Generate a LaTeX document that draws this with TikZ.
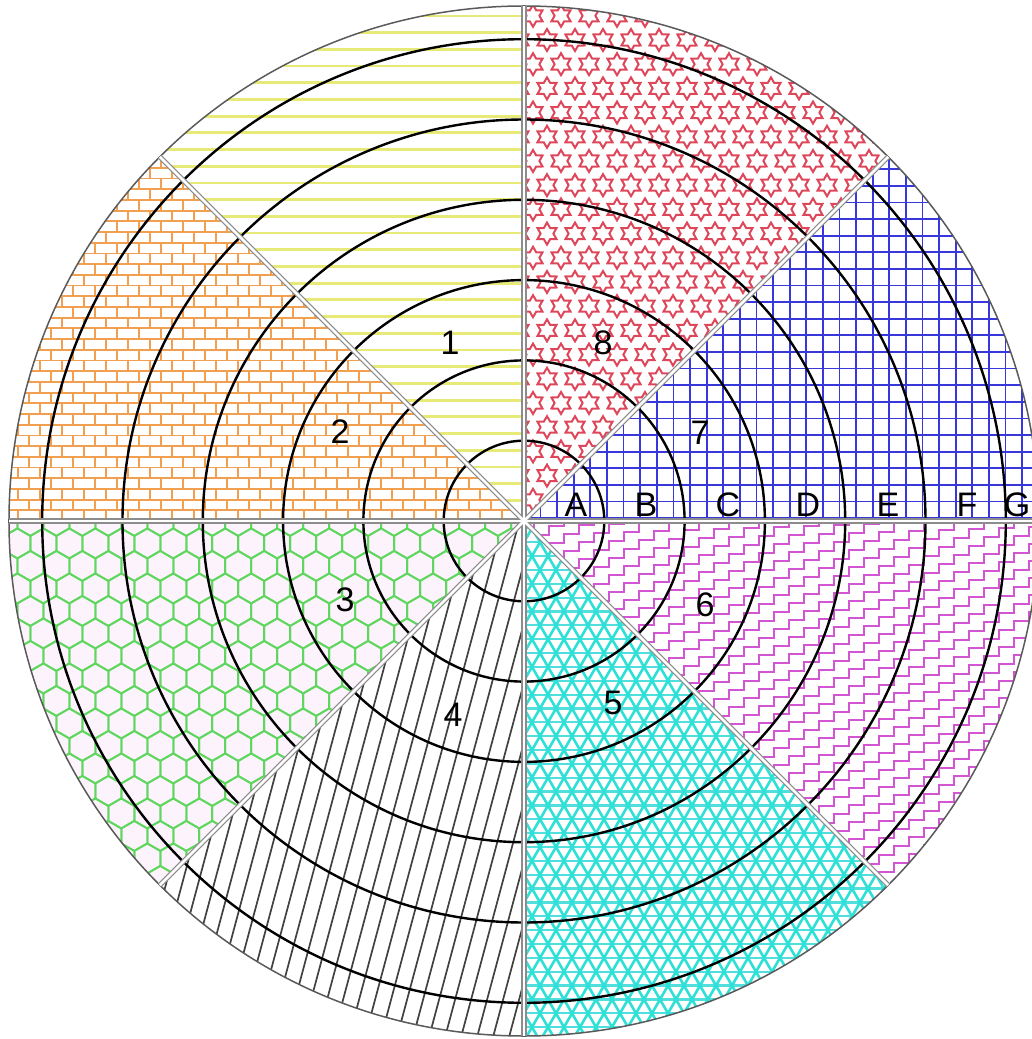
\documentclass[tikz,border=0pt]{standalone}
\usepackage{fontspec}
\setmainfont{Liberation Sans}
\definecolor{yel}{RGB}{232,234,120}
\definecolor{starred}{RGB}{222,70,90}
\definecolor{gridblue}{RGB}{55,55,220}
\definecolor{mag}{RGB}{210,85,210}
\definecolor{cyanp}{RGB}{45,225,215}
\definecolor{cyanl}{RGB}{80,222,222}
\definecolor{hatchc}{RGB}{65,65,65}
\definecolor{hexg}{RGB}{95,215,95}
\definecolor{hexfill}{RGB}{253,243,252}
\definecolor{brickc}{RGB}{240,160,80}
\definecolor{divgray}{RGB}{140,140,140}
\definecolor{rimgray}{RGB}{90,90,90}
\tikzset{
  hexstar/.pic={\draw[starred,line width=2pt] (90:11)--(120:6.4)--(150:11)--(180:6.4)--(210:11)--(240:6.4)--(270:11)--(300:6.4)--(330:11)--(0:6.4)--(30:11)--(60:6.4)--cycle;},
  honey/.pic={\filldraw[fill=hexfill,draw=hexg,line width=2pt] (30:15)--(90:15)--(150:15)--(210:15)--(270:15)--(330:15)--cycle;}
}
\begin{document}
\begin{tikzpicture}[x=1pt,y=1pt,
  ring/.style={line width=2.4pt, black},
  rim/.style={draw=rimgray, line width=1.5pt},
  lab/.style={font=\fontsize{34}{40}\selectfont, inner sep=0pt, text=black}]
\def\R{515}
\useasboundingbox (-524,-518) rectangle (508,521);

% sector 1: yellow horizontal lines
\begin{scope}
\clip (0,0) -- (90:\R) arc[start angle=90,end angle=135,radius=\R] -- cycle;
\foreach \y in {4,20.7,...,530} \draw[yel,line width=2.8pt] (-530,\y) -- (0,\y);
\end{scope}

% sector 8: six-pointed stars
\begin{scope}
\clip (0,0) -- (45:\R) arc[start angle=45,end angle=90,radius=\R] -- cycle;
\foreach \j in {0,...,22} {
  \foreach \i in {0,...,14} {
    \pgfmathsetmacro\xx{\i*28 + mod(\j,2)*14 - 5}
    \pgfmathsetmacro\yy{\j*24.2 - 3}
    \pic at (\xx,\yy) {hexstar};
  }
}
\end{scope}

% sector 7: blue grid
\begin{scope}
\clip (0,0) -- (0:\R) arc[start angle=0,end angle=45,radius=\R] -- cycle;
\foreach \v in {0,16.6,...,530} {
  \draw[gridblue,line width=1.8pt] (\v,0) -- (\v,400);
  \draw[gridblue,line width=1.8pt] (0,\v+3) -- (530,\v+3);
}
\end{scope}

% sector 6: magenta staircases
\begin{scope}
\clip (0,0) -- (-45:\R) arc[start angle=-45,end angle=0,radius=\R] -- cycle;
\foreach \y in {-720,-703,...,10}
  \draw[mag,line width=1.7pt] (-5,\y) \foreach \k in {1,...,36} { -- ++(15,0) -- ++(0,9) };
\end{scope}

% sector 5: cyan triangle lattice
\begin{scope}
\clip (0,0) -- (-90:\R) arc[start angle=-90,end angle=-45,radius=\R] -- cycle;
\foreach \n in {0,...,38} \draw[cyanl,line width=2.2pt] (-10,-520+\n*13.856) -- (380,-520+\n*13.856);
\foreach \a in {-320,-304,...,400} \draw[cyanp,line width=2.6pt] (\a,-520) -- ++(300.2,520);
\foreach \a in {0,16,...,720} \draw[cyanp,line width=2.6pt] (\a,-520) -- ++(-300.2,520);
\end{scope}

% sector 4: steep dark lines
\begin{scope}
\clip (0,0) -- (225:\R) arc[start angle=225,end angle=270,radius=\R] -- cycle;
\foreach \a in {-544,-528,...,20} \draw[hatchc,line width=1.7pt] (\a,-520) -- ++(139.3,520);
\end{scope}

% sector 3: green honeycomb
\begin{scope}
\clip (0,0) -- (180:\R) arc[start angle=180,end angle=225,radius=\R] -- cycle;
\foreach \j in {0,...,17} {
  \foreach \i in {0,...,20} {
    \pgfmathsetmacro\xx{-\i*25.98 - mod(\j,2)*12.99}
    \pgfmathsetmacro\yy{-\j*22.5}
    \pic at (\xx,\yy) {honey};
  }
}
\end{scope}

% sector 2: orange bricks
\begin{scope}
\clip (0,0) -- (135:\R) arc[start angle=135,end angle=180,radius=\R] -- cycle;
\foreach \j in {0,...,35} {
  \pgfmathsetmacro\yy{\j*10.7}
  \draw[brickc,line width=1.8pt] (-530,\yy) -- (0,\yy);
  \foreach \i in {0,...,24} {
    \pgfmathsetmacro\xx{-\i*22 - mod(\j,2)*11}
    \draw[brickc,line width=1.8pt] (\xx,\yy) -- ++(0,10.7);
  }
}
\end{scope}

% concentric rings
\foreach \k in {1,...,6} \draw[ring] (0,0) circle[radius=\k*80.3];
\draw[rim] (0,0) circle[radius=\R];

% sector dividers (double grey lines)
\foreach \a in {0,45,...,315} \draw[divgray,line width=5.1pt] (0,0) -- (\a:\R);
\foreach \a in {0,45,...,315} \draw[white,line width=2.5pt] (0,0) -- (\a:\R);
\fill[white] (0,0) circle[radius=3.5];

% sector numbers
\node[lab] (n1) at (-74,178) {1};
\node[lab] (n2) at (-184,89) {2};
\node[lab] (n3) at (-179,-79) {3};
\node[lab] (n4) at (-71,-194) {4};
\node[lab] (n5) at (89,-182) {5};
\node[lab] (n6) at (181,-84) {6};
\node[lab] (n7) at (176,88) {7};
\node[lab] (n8) at (79,178) {8};

% ring letters
\node[lab] (rA) at (52,16.5) {A};
\node[lab] (rB) at (122,16.5) {B};
\node[lab] (rC) at (204,16.5) {C};
\node[lab] (rD) at (284,16.5) {D};
\node[lab] (rE) at (364,16.5) {E};
\node[lab] (rF) at (443,16.5) {F};
\node[lab] (rG) at (493,16.5) {G};
\end{tikzpicture}
\end{document}
